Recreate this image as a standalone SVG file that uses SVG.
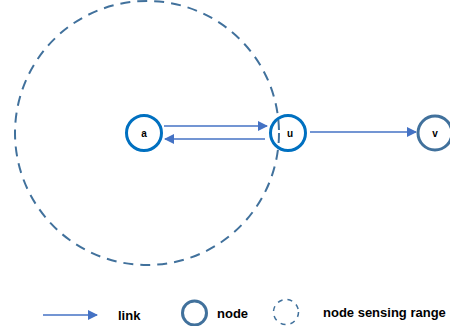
<svg xmlns="http://www.w3.org/2000/svg" width="450" height="326" viewBox="0 0 450 326">
<defs>
<style>
.t{font-family:"Liberation Sans",Arial,sans-serif;font-weight:bold;font-size:13px;fill:#000}
.lbl{font-family:"Liberation Sans",Arial,sans-serif;font-weight:bold;font-size:10px;fill:#000;text-anchor:middle}
.nb{fill:#fff;stroke:#0070C0;stroke-width:3}
.ns{fill:#fff;stroke:#41719C;stroke-width:3}
.range{fill:none;stroke:#41719C;stroke-width:2;stroke-dasharray:10 7}
.link{stroke:#4472C4;stroke-width:1.6;fill:none}
</style>
<marker id="ah" viewBox="0 0 10 10" refX="9" refY="5" markerWidth="10" markerHeight="10" markerUnits="userSpaceOnUse" orient="auto">
<path d="M0,0 L10,5 L0,10 z" fill="#4472C4"/>
</marker>
</defs>
<rect width="450" height="326" fill="#fff"/>
<g id="connectors">
<line class="link" x1="164" y1="126" x2="267" y2="126" marker-end="url(#ah)"/>
<line class="link" x1="265" y1="139" x2="165" y2="139" marker-end="url(#ah)"/>
<line class="link" x1="310" y1="132" x2="416" y2="132" marker-end="url(#ah)"/>
</g>
<g id="node-a">
<circle class="nb" cx="144" cy="133" r="17.5"/>
<text class="lbl" x="144" y="137">a</text>
</g>
<g id="node-u">
<circle class="nb" cx="288" cy="133" r="17.5"/>
<text class="lbl" x="290" y="137">u</text>
</g>
<g id="node-v">
<circle class="ns" cx="435" cy="133" r="17"/>
<text class="lbl" x="435" y="137">v</text>
</g>
<circle id="sensing-range" class="range" cx="147" cy="133" r="132"/>
<g id="legend">
<line class="link" x1="43" y1="315" x2="97" y2="315" marker-end="url(#ah)"/>
<text class="t" x="118" y="320">link</text>
<circle class="ns" cx="194.5" cy="313" r="12"/>
<text class="t" x="217" y="318">node</text>
<circle fill="none" stroke="#41719C" stroke-width="1.5" stroke-dasharray="5 5" cx="286" cy="312" r="12.5"/>
<text class="t" x="323" y="317">node sensing range</text>
</g>
</svg>
